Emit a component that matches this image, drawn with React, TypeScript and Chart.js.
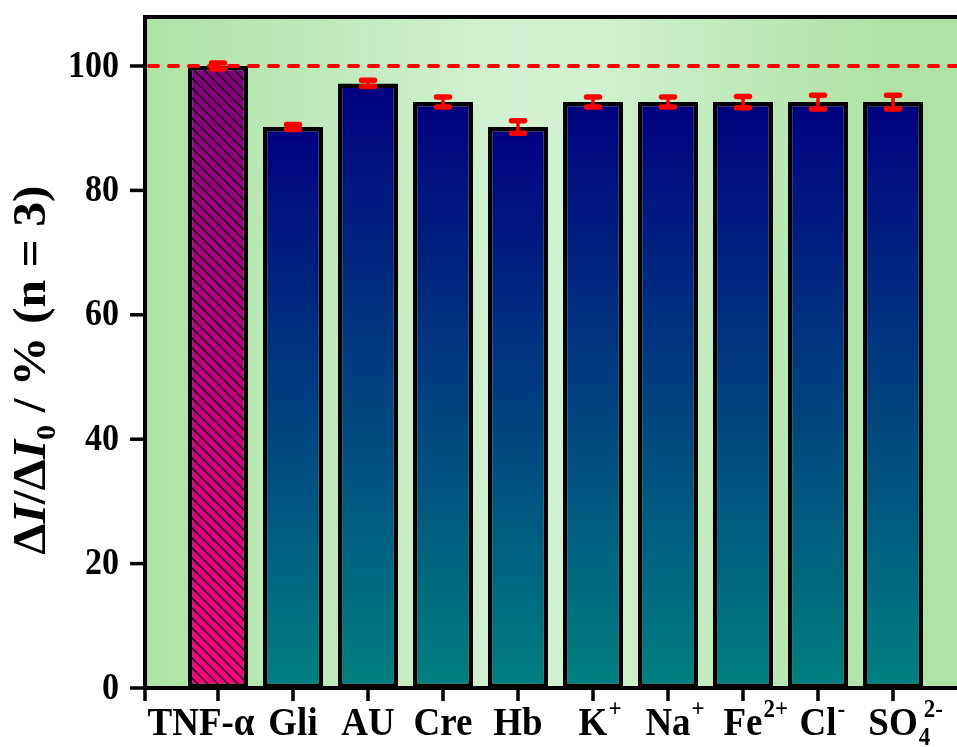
import { useEffect, useRef } from "react";
import { Chart, registerables } from "chart.js";

Chart.register(...registerables);

// ---- data ----
const categories = ["TNF-α", "Gli", "AU", "Cre", "Hb", "K", "Na", "Fe", "Cl", "SO"];
const labelSup = ["", "", "", "", "", "+", "+", "2+", "-", "2-"];
const labelSub = ["", "", "", "", "", "", "", "", "", "4"];
const values = [100, 90.2, 97.2, 94.2, 90.2, 94.2, 94.2, 94.2, 94.2, 94.2];
const errors = [0.5, 0.4, 0.5, 0.8, 1.0, 0.8, 0.8, 0.9, 1.1, 1.1];
const yTicks = [0, 20, 40, 60, 80, 100];
const referenceValue = 100;

const W = 990;
const H = 747;
const SERIF = '"Liberation Serif", "Times New Roman", serif';

function barGradient(ctx: any) {
  const chart = ctx.chart;
  const area = chart.chartArea;
  if (!area || !chart.scales || !chart.scales.y) return "#000080";
  const y = chart.scales.y;
  const i = ctx.dataIndex;
  const top = y.getPixelForValue(values[i] ?? 100);
  const bottom = y.getPixelForValue(0);
  const g = chart.ctx.createLinearGradient(0, top, 0, bottom);
  if (i === 0) {
    g.addColorStop(0, "#800080");
    g.addColorStop(1, "#FF0080");
  } else {
    g.addColorStop(0, "#000080");
    g.addColorStop(1, "#008080");
  }
  return g;
}

const decorPlugin = {
  id: "decor",
  beforeDraw(chart: any) {
    const { ctx, chartArea: a } = chart;
    ctx.save();
    ctx.fillStyle = "#ffffff";
    ctx.fillRect(0, 0, chart.width, chart.height);
    const g = ctx.createLinearGradient(a.left, 0, a.right, 0);
    g.addColorStop(0, "#ADE3A5");
    g.addColorStop(0.45, "#D3F1D2");
    g.addColorStop(0.55, "#D0F0CF");
    g.addColorStop(0.9, "#AEE3A5");
    g.addColorStop(1, "#AEE3A5");
    ctx.fillStyle = g;
    ctx.fillRect(a.left, a.top, a.right - a.left, a.bottom - a.top);
    ctx.restore();
  },
  afterDatasetsDraw(chart: any) {
    const { ctx, chartArea: a } = chart;
    const xs = chart.scales.x;
    const ys = chart.scales.y;
    const meta = chart.getDatasetMeta(0);

    // hatch on first bar
    const b0 = meta.data[0];
    if (b0) {
      const bw = b0.width;
      const left = b0.x - bw / 2 + 4;
      const right = b0.x + bw / 2 - 4;
      const top = b0.y + 4;
      const bottom = b0.base;
      ctx.save();
      ctx.beginPath();
      ctx.rect(left, top, right - left, bottom - top);
      ctx.clip();
      ctx.strokeStyle = "#1a0010";
      ctx.lineWidth = 1.4;
      const h = bottom - top;
      for (let k = -h; k < right - left + 10; k += 10) {
        ctx.beginPath();
        ctx.moveTo(left + k, top);
        ctx.lineTo(left + k + h, top + h);
        ctx.stroke();
      }
      ctx.restore();
    }

    // dashed reference line
    const yr = ys.getPixelForValue(referenceValue);
    ctx.save();
    ctx.strokeStyle = "#FF0000";
    ctx.lineWidth = 4;
    ctx.lineCap = "round";
    ctx.setLineDash([9, 11]);
    ctx.beginPath();
    ctx.moveTo(a.left + 6, yr);
    ctx.lineTo(a.right, yr);
    ctx.stroke();
    ctx.restore();

    // error bars
    ctx.save();
    ctx.strokeStyle = "#FF0000";
    ctx.lineCap = "round";
    values.forEach((v, i) => {
      const x = xs.getPixelForValue(i);
      const y1 = ys.getPixelForValue(v + errors[i]);
      const y2 = ys.getPixelForValue(v - errors[i]);
      ctx.lineWidth = 3.5;
      ctx.beginPath();
      ctx.moveTo(x, y1);
      ctx.lineTo(x, y2);
      ctx.stroke();
      ctx.lineWidth = 5.5;
      ctx.beginPath();
      ctx.moveTo(x - 6.5, y1);
      ctx.lineTo(x + 6.5, y1);
      ctx.moveTo(x - 6.5, y2);
      ctx.lineTo(x + 6.5, y2);
      ctx.stroke();
    });
    ctx.restore();

    // frame
    ctx.save();
    ctx.strokeStyle = "#000";
    ctx.lineWidth = 4;
    ctx.strokeRect(a.left + 2, a.top + 2, a.right - a.left - 4, a.bottom - a.top - 2);
    // y ticks
    ctx.lineWidth = 3.5;
    yTicks.forEach((t) => {
      const y = ys.getPixelForValue(t);
      ctx.beginPath();
      ctx.moveTo(a.left - 13, y);
      ctx.lineTo(a.left, y);
      ctx.stroke();
    });
    // x ticks
    for (let i = -1; i < categories.length; i++) {
      const x = xs.getPixelForValue(i) + (i === -1 ? 2 : 0);
      ctx.beginPath();
      ctx.moveTo(x, a.bottom);
      ctx.lineTo(x, a.bottom + 13);
      ctx.stroke();
    }
    ctx.restore();

    // y tick labels
    ctx.save();
    ctx.fillStyle = "#000";
    ctx.font = `bold 34px ${SERIF}`;
    ctx.textAlign = "right";
    ctx.textBaseline = "middle";
    yTicks.forEach((t) => {
      const y = ys.getPixelForValue(t);
      ctx.save();
      ctx.translate(a.left - 24, y + 1);
      ctx.scale(1, 1.1);
      ctx.fillText(String(t), 0, 0);
      ctx.restore();
    });
    ctx.restore();

    // x tick labels
    ctx.save();
    ctx.fillStyle = "#000";
    ctx.textBaseline = "alphabetic";
    ctx.textAlign = "left";
    const baseY = a.bottom + 47;
    categories.forEach((c, i) => {
      let x = xs.getPixelForValue(i);
      ctx.font = `bold 37px ${SERIF}`;
      const w = ctx.measureText(c).width;
      if (i === 0) x -= 17;
      ctx.save();
      ctx.translate(x - w / 2, baseY);
      ctx.scale(1, 1.1);
      ctx.fillText(c, 0, 0);
      ctx.font = `bold 23px ${SERIF}`;
      if (labelSub[i]) ctx.fillText(labelSub[i], w + 1, 9);
      if (labelSup[i]) ctx.fillText(labelSup[i], w + (labelSub[i] ? 6 : 1), -16);
      ctx.restore();
    });
    ctx.restore();

    // y title
    ctx.save();
    ctx.fillStyle = "#000";
    ctx.textBaseline = "alphabetic";
    ctx.textAlign = "left";
    const pieces: [string, string, number][] = [
      ["Δ", `bold 46px ${SERIF}`, 0],
      ["I", `italic bold 46px ${SERIF}`, 0],
      ["/Δ", `bold 46px ${SERIF}`, 0],
      ["I", `italic bold 46px ${SERIF}`, 0],
      ["0", `bold 28px ${SERIF}`, 10],
      [" / % (n = 3)", `bold 46px ${SERIF}`, 0],
    ];
    let total = 0;
    const widths = pieces.map(([t, f]) => {
      ctx.font = f;
      const w = ctx.measureText(t).width;
      total += w;
      return w;
    });
    ctx.translate(45, 370);
    ctx.rotate(-Math.PI / 2);
    ctx.scale(1.08, 1);
    let px = -total / 2;
    pieces.forEach(([t, f, dy], k) => {
      ctx.font = f;
      ctx.fillText(t, px, dy);
      px += widths[k];
    });
    ctx.restore();
  },
};

export default function App() {
  const ref = useRef<HTMLCanvasElement | null>(null);
  useEffect(() => {
    if (!ref.current) return;
    const chart = new Chart(ref.current, {
      type: "bar",
      data: {
        datasets: [
          {
            data: values.map((v, i) => ({ x: i, y: v })),
            backgroundColor: barGradient as any,
            borderColor: "#000",
            borderWidth: 4.5,
            borderSkipped: false,
            barPercentage: 0.8,
            categoryPercentage: 1,
          } as any,
        ],
      },
      options: {
        animation: false,
        responsive: false,
        maintainAspectRatio: false,
        devicePixelRatio: 1,
        layout: { padding: { left: 143, top: 15, right: W - 968, bottom: H - 688 } },
        plugins: { legend: { display: false }, tooltip: { enabled: false } },
        scales: {
          x: { type: "linear", min: -1, max: 10, display: false, offset: false },
          y: { min: 0, max: 108.2, display: false },
        },
      },
      plugins: [decorPlugin],
    });
    return () => chart.destroy();
  }, []);
  return (
    <div style={{ position: "fixed", left: 0, top: 0, width: 957, height: 747, overflow: "hidden", background: "#fff" }}>
      <canvas ref={ref} width={W} height={H} style={{ display: "block", width: W, height: H }} />
    </div>
  );
}
